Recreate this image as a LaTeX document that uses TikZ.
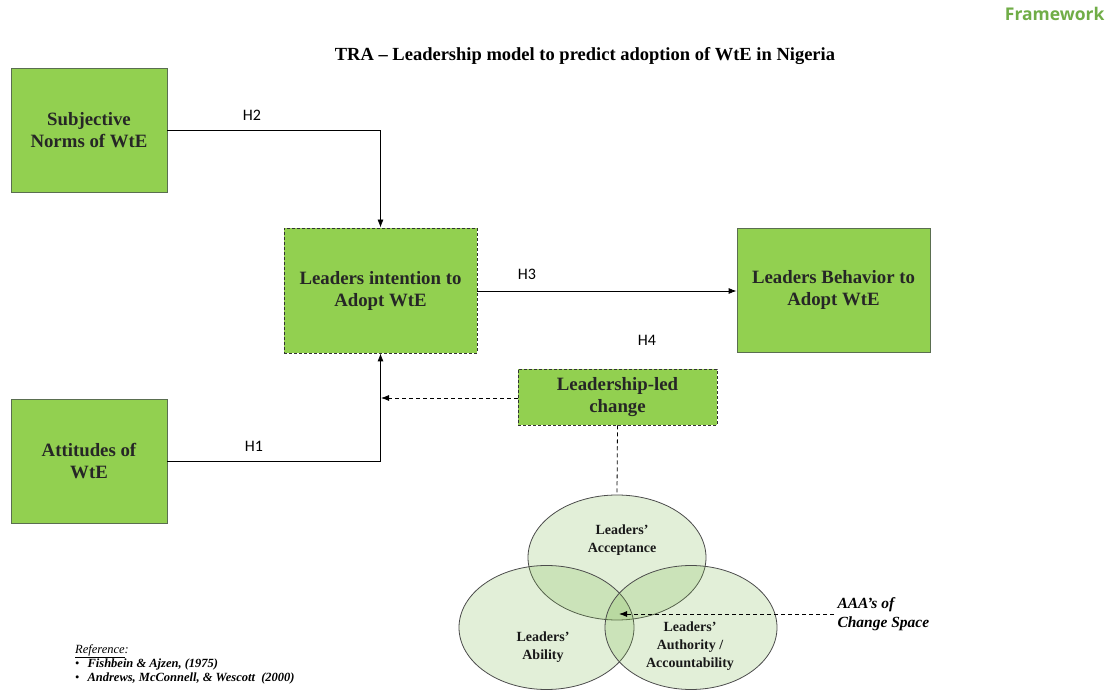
\documentclass[tikz,border=0pt]{standalone}
\usepackage{fontspec}
\setmainfont{Liberation Serif}
\newfontfamily\labelfont{Carlito}
\newfontfamily\headfont{Open Sans}
\usetikzlibrary{arrows.meta}
\definecolor{boxgreen}{RGB}{146,208,80}
\definecolor{boxedge}{RGB}{90,110,80}
\definecolor{vennfill}{RGB}{122,183,74}
\definecolor{headgreen}{RGB}{112,173,71}
\tikzset{
  x=1pt, y=-1pt,
  box/.style={draw=boxedge, line width=0.8pt, fill=boxgreen, minimum width=156pt, minimum height=124pt,
    align=center, font=\fontsize{18.8}{22}\selectfont\bfseries, text=black!85, inner sep=0pt},
  dashbox/.style={box, draw=black!80, dashed, dash pattern=on 3pt off 2pt},
  link/.style={line width=0.8pt, -{Latex[length=8pt,width=6pt]}},
  dashlink/.style={line width=0.8pt, dash pattern=on 4pt off 3pt},
  hyp/.style={font=\labelfont\fontsize{16}{18}\selectfont},
  venn/.style={draw=black!70, line width=0.8pt, fill=vennfill, fill opacity=0.21},
  venntext/.style={align=center, font=\fontsize{14}{18}\selectfont\bfseries, text=black!90}
}
\begin{document}
\begin{tikzpicture}
\useasboundingbox (0,0) rectangle (1117,692);
\fill[white] (0,0) rectangle (1117,692);

% headings
\node[anchor=east, text=headgreen, font=\headfont\fontsize{17.5}{20}\selectfont\bfseries] (head) at (1108,14) {Framework};
\node[font=\fontsize{18.5}{20}\selectfont\bfseries] (title) at (585,56) {TRA -- Leadership model to predict adoption of WtE in Nigeria};

% construct boxes
\node[box] (norms) at (89,130) {Subjective\\Norms of WtE};
\node[box] (att) at (89,461) {Attitudes of\\WtE};
\node[dashbox, minimum width=193pt, minimum height=125pt] (intent) at (380.5,290.5) {Leaders intention to\\Adopt WtE};
\node[box, minimum width=193pt, minimum height=124pt] (behav) at (833.5,290) {Leaders Behavior to\\Adopt WtE};
\node[dashbox, minimum width=199pt, minimum height=56pt] (lead) at (617.5,397) {Leadership-led\\change};

% hypothesised paths
\draw[link] (norms.east) -| (intent.north);
\draw[link] (att.east) -| (intent.south);
\draw[link] (intent.east |- 0,291) -- (behav.west |- 0,291);
\node[hyp] (h2) at (252,115) {H2};
\node[hyp] (h1) at (254,446) {H1};
\node[hyp] (h3) at (527,274) {H3};
\node[hyp] (h4) at (647,340) {H4};

% moderating influence
\coordinate (modtip) at (381,398);
\draw[dashlink, -{Latex[length=8pt,width=6pt]}] (lead.west |- modtip) -- (modtip);

% AAA's of change space
\draw[venn] (617,557.5) ellipse [x radius=89, y radius=62.5];
\draw[venn] (546.5,627.5) ellipse [x radius=87.5, y radius=62];
\draw[venn] (691,627.5) ellipse [x radius=86, y radius=62];
\coordinate (acctop) at (617,495);
\draw[dashlink] (lead.south) -- (acctop);
\node[venntext] (acc) at (622,540) {Leaders'\\Acceptance};
\node[venntext] (abil) at (543,647) {Leaders'\\Ability};
\node[venntext] (auth) at (690,646) {Leaders'\\Authority /\\Accountability};

\node[anchor=west, align=left, font=\fontsize{15.5}{19}\selectfont\bfseries\itshape] (aaa) at (834,614) {AAA's of\\Change Space};
\coordinate (core) at (619,614);
\draw[dashlink, -{Latex[length=8pt,width=6pt]}] (aaa.west) -- (core);

% references
\node[anchor=north west, align=left, font=\fontsize{12.5}{14.2}\selectfont\itshape, inner sep=0pt] (refs) at (75,644)
  {\underline{Reference}:\\
   \upshape\textbullet\hspace{8pt}\itshape\bfseries Fishbein \& Ajzen, (1975)\\
   \upshape\mdseries\textbullet\hspace{8pt}\itshape\bfseries Andrews, McConnell, \& Wescott \ (2000)};
\end{tikzpicture}
\end{document}
